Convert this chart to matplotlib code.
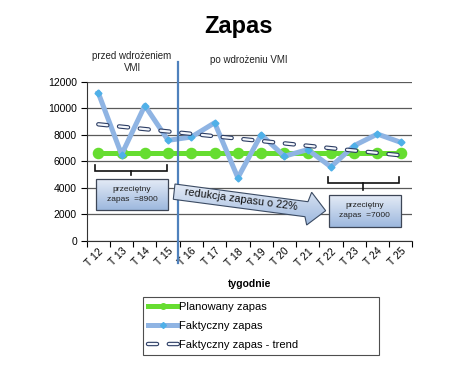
"""
Zapas: planned vs actual inventory before / after VMI rollout.
Output: out.png (460x372)
"""
import numpy as np
import matplotlib
matplotlib.use("Agg")
import matplotlib.pyplot as plt
from matplotlib.patches import Polygon, Rectangle
from matplotlib.lines import Line2D

plt.rcParams["font.family"] = ["Liberation Sans", "DejaVu Sans"]
plt.rcParams["lines.scale_dashes"] = False

# --- data ---
weeks = ["T 12", "T 13", "T 14", "T 15", "T 16", "T 17", "T 18",
         "T 19", "T 20", "T 21", "T 22", "T 23", "T 24", "T 25"]
planned = [6600] * 14
actual = [11150, 6500, 10200, 7575, 7825, 8900, 4750,
          8000, 6375, 6875, 5575, 7175, 8050, 7425]
trend = [8785, 8605, 8425, 8245, 8065, 7885, 7705,
         7525, 7345, 7165, 6985, 6805, 6625, 6445]
y_ticks = [0, 2000, 4000, 6000, 8000, 10000, 12000]
avg_before, avg_after = 8900, 7000
reduction = 22

GREEN = "#66dd30"
BLUE_LINE = "#8fb4e3"
BLUE_MARK = "#4fb0e8"
NAVY = "#2b3c63"
VLINE = "#4f81bd"
GRID = "#5a5a5a"

fig = plt.figure(figsize=(4.6, 3.72), dpi=100)
ax = fig.add_axes([86.7 / 460, 1 - 240.7 / 372, (412.3 - 86.7) / 460, (240.7 - 81.7) / 372])
x = np.arange(len(weeks))

# series
ax.plot(x, planned, "-o", color=GREEN, lw=3.6, ms=7.3, mec=GREEN, zorder=3)
ax.plot(x, actual, "-", color=BLUE_LINE, lw=3.6, zorder=4)
ax.plot(x, actual, "D", color=BLUE_MARK, ms=3.5, mec=BLUE_MARK, zorder=4.5)
dash = (0, (6.5, 8.5))
ax.plot(x, trend, color=NAVY, lw=3.2, ls=dash, dash_capstyle="round", zorder=5)
ax.plot(x, trend, color="#f4f7fc", lw=1.6, ls=dash, dash_capstyle="round", zorder=5.1)

# axes styling
ax.set_yticks(y_ticks)
ax.set_yticklabels([str(v) for v in y_ticks], fontsize=7.5)
ax.set_xticks(x)
ax.set_xticklabels(weeks, rotation=45, ha="right", rotation_mode="anchor", fontsize=7.5)
ax.tick_params(axis="x", length=0, pad=4)
ax.set_xticks(np.arange(-0.5, len(weeks)), minor=True)
ax.tick_params(axis="x", which="minor", length=4, direction="out", width=0.8)
ax.tick_params(axis="y", length=4, width=0.8, pad=3)
for s in ["top", "right"]:
    ax.spines[s].set_visible(False)
ax.spines["left"].set_color("#333333")
ax.spines["bottom"].set_color("#333333")
ax.yaxis.grid(True, color=GRID, lw=0.9)
ax.set_axisbelow(True)
ax.set_xlabel("tygodnie", fontsize=7.5, fontweight="bold", labelpad=8)

# divider between before / after VMI
ax.axvline(3.43, ymin=-0.14, ymax=1.124, color=VLINE, lw=1.6, clip_on=False, zorder=6)

fig.text(239 / 460, 1 - 26 / 372, "Zapas", fontsize=17, fontweight="bold",
         ha="center", va="center")
ax.text(1.45, 13480, "przed wdrożeniem\nVMI", fontsize=7, ha="center", va="center",
        linespacing=1.25, color="#222222")
ax.text(6.48, 13650, "po wdrożeniu VMI", fontsize=7, ha="center", va="center",
        color="#222222")


def gradient_patch(patch, top="#e4ebf6", bottom="#9db8de"):
    ax.add_patch(patch)
    pts = patch.get_patch_transform().transform(patch.get_path().vertices)
    xs, ys = pts[:, 0], pts[:, 1]
    grad = np.linspace(0, 1, 64).reshape(-1, 1)
    c0 = np.array(matplotlib.colors.to_rgb(top))
    c1 = np.array(matplotlib.colors.to_rgb(bottom))
    img = c0 + (c1 - c0) * grad[:, :, None]
    im = ax.imshow(img, extent=[xs.min(), xs.max(), ys.min(), ys.max()],
                   origin="upper", aspect="auto", zorder=patch.get_zorder() - 0.01,
                   interpolation="bilinear")
    im.set_clip_path(patch)


def bracket(x0, x1, ytop, ybar, ytick):
    xm = (x0 + x1) / 2
    ax.plot([x0, x0, x1, x1], [ytop, ybar, ybar, ytop], color="#111111", lw=1.2,
            zorder=7, solid_joinstyle="miter")
    ax.plot([xm, xm], [ybar, ytick], color="#111111", lw=1.2, zorder=7)


bracket(-0.14, 2.94, 5713, 5283, 4958)
bracket(9.86, 12.94, 4785, 4332, 3826)

box1 = Rectangle((-0.1, 2317), 3.095, 2317, facecolor="none", edgecolor="#3d4656",
                 lw=0.9, zorder=8)
gradient_patch(box1)
ax.text(1.45, 3472, f"przeciętny\nzapas  ={avg_before}", fontsize=6, ha="center",
        va="center", linespacing=1.6, zorder=9, color="#222222")

box2 = Rectangle((9.93, 1057), 3.07, 2392, facecolor="none", edgecolor="#3d4656",
                 lw=0.9, zorder=8)
gradient_patch(box2)
ax.text(11.46, 2250, f"przeciętny\nzapas  ={avg_after}", fontsize=6, ha="center",
        va="center", linespacing=1.6, zorder=9, color="#222222")

arrow = Polygon([(3.296, 4279), (9.014, 2943), (9.173, 3653), (9.775, 2264),
                 (8.958, 1185), (8.885, 1811), (3.223, 3125)], closed=True,
                facecolor="none", edgecolor="#3b4b63", lw=0.8, zorder=8)
gradient_patch(arrow)
ax.text(6.15, 3120, f"redukcja zapasu o {reduction}%", fontsize=7.8, rotation=-7.6,
        ha="center", va="center", rotation_mode="anchor", zorder=9, color="#111111")
ax.set_xlim(-0.5, len(weeks) - 0.5)
ax.set_ylim(0, 12000)

# legend
h_plan = Line2D([], [], color=GREEN, lw=3.6, marker="o", ms=4)
h_act = (Line2D([], [], color=BLUE_LINE, lw=3.6),
         Line2D([], [], color=BLUE_MARK, marker="D", ms=3, ls="none"))
h_tr = (Line2D([], [], color=NAVY, lw=3.2, ls=(0, (6.5, 8.5)), dash_capstyle="round"),
        Line2D([], [], color="#f4f7fc", lw=1.6, ls=(0, (6.5, 8.5)), dash_capstyle="round"))
leg = fig.legend([h_plan, h_act, h_tr],
                 ["Planowany zapas", "Faktyczny zapas", "Faktyczny zapas - trend"],
                 loc="upper left",
                 bbox_to_anchor=(142.7 / 460, 1 - 297.3 / 372, (379.3 - 142.7) / 460, 0),
                 mode="expand", fontsize=8, handlelength=2.7, handletextpad=0.1,
                 labelspacing=0.78, borderpad=0.45, frameon=True, fancybox=False,
                 borderaxespad=0)
leg.get_frame().set_edgecolor("#222222")
leg.get_frame().set_linewidth(0.8)

fig.savefig("out.png", dpi=100)
